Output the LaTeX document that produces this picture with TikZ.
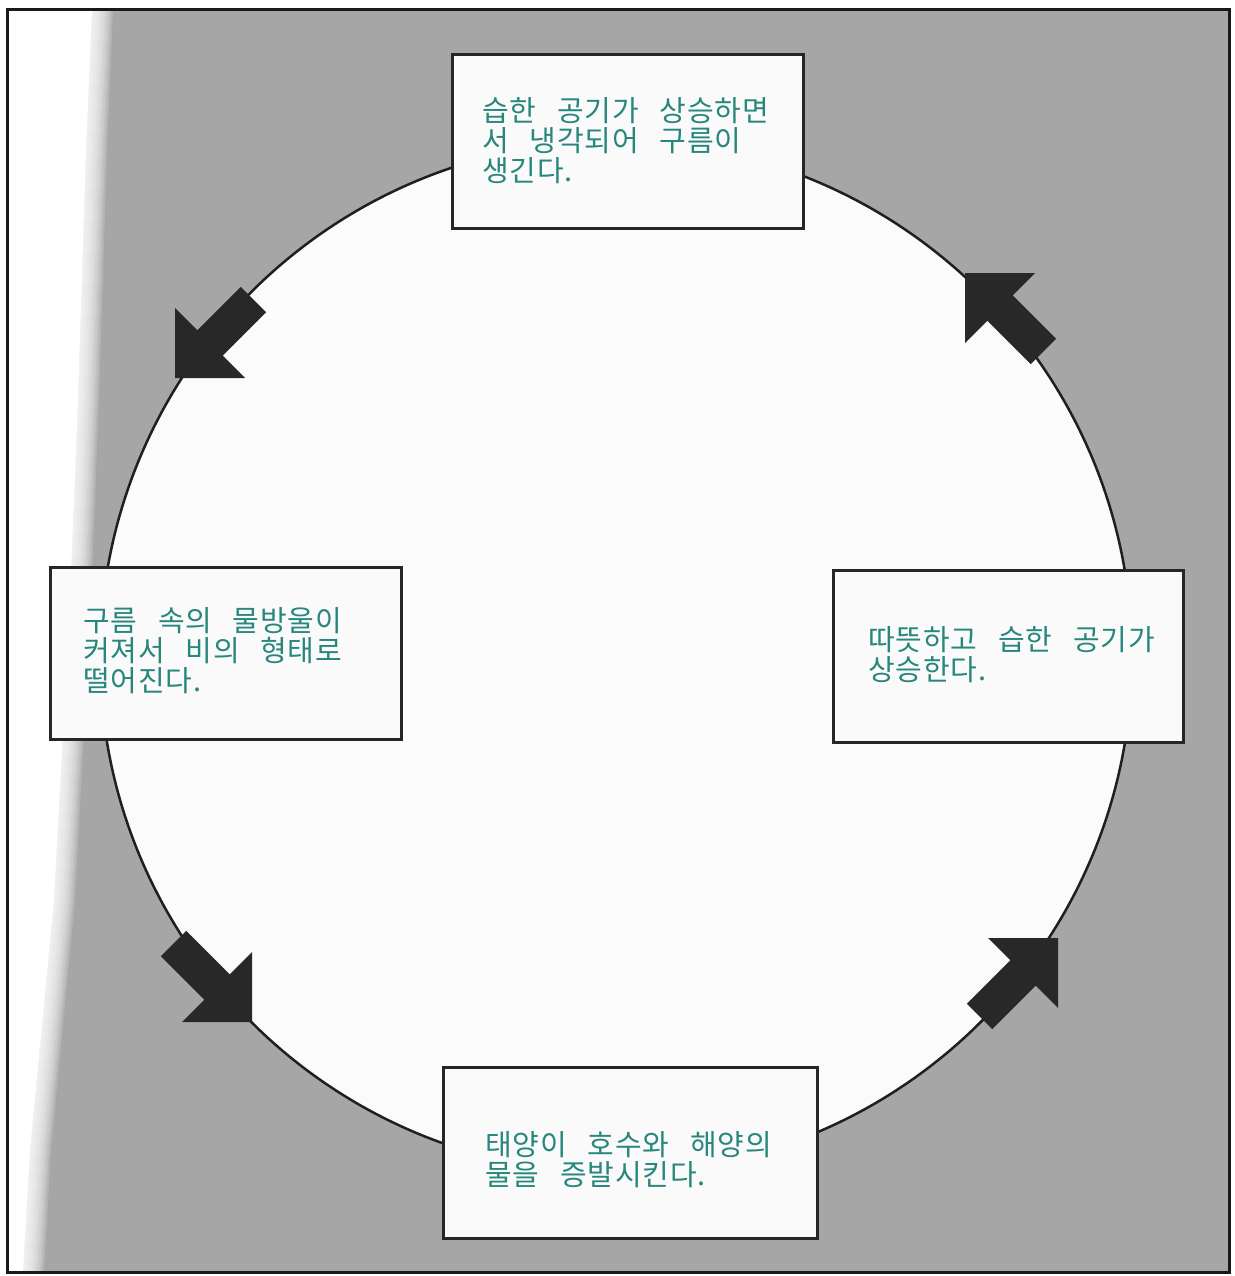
\documentclass[tikz,border=0pt]{standalone}
\usepackage{fontspec}
\newfontfamily\kr{Noto Sans CJK KR}[LetterSpace=3,WordSpace=2.8]
\definecolor{bggray}{RGB}{166,166,166}
\definecolor{ink}{RGB}{40,135,125}
\definecolor{arrowc}{RGB}{40,40,40}
\definecolor{boxfill}{RGB}{250,250,250}
\definecolor{circfill}{RGB}{251,251,251}
\tikzset{
  box/.style={draw=black!85, line width=3pt, fill=boxfill, inner sep=0pt, rectangle},
  txt/.style={font=\kr\fontsize{29}{30}\selectfont, text=ink, align=left, anchor=north west, inner sep=0pt},
  blockarr/.pic={\fill[arrowc] (0,0) -- (-49.5,49.5) -- (-49.5,18) -- (-111,18) -- (-111,-18) -- (-49.5,-18) -- (-49.5,-49.5) -- cycle;}
}
\begin{document}
\begin{tikzpicture}[x=1pt,y=-1pt]
\useasboundingbox (0,0) rectangle (1234,1276);
\fill[white] (0,0) rectangle (1234,1276);
\fill[bggray] (7,10) rectangle (1229,1272);
% soft white strip at the left
\fill[white] (7,10) -- (92,10) -- (86,150) -- (78,400) -- (70,600) -- (54,900) -- (30,1150) -- (23,1272) -- (7,1272) -- cycle;
\foreach \s in {-10,-8,...,10}{
  \fill[white, opacity=0.16, xshift=\s pt] (7,10) -- (103,10) -- (97,150) -- (89,400) -- (81,600) -- (65,900) -- (41,1150) -- (34,1272) -- (7,1272) -- cycle;
}
% circle
\node[circle, draw=black!88, line width=2.5pt, fill=circfill, minimum size=1032pt, inner sep=0pt] (cyc) at (616,657) {};
% arrows
\pic[rotate=225] (arrTL) at (175,378) {blockarr};
\pic[rotate=135] (arrTR) at (965,273) {blockarr};
\pic[rotate=-45] (arrBL) at (252,1022) {blockarr};
\pic[rotate=45] (arrBR) at (1058,938) {blockarr};
% boxes
\node[box, minimum width=351pt, minimum height=173pt] (btop) at (627.5,141.5) {};
\node[box, minimum width=351pt, minimum height=172pt] (bleft) at (225.5,653) {};
\node[box, minimum width=350pt, minimum height=172pt] (bright) at (1008,656) {};
\node[box, minimum width=374pt, minimum height=171pt] (bbottom) at (630,1152.5) {};
% texts
\node[txt] (ttop) at (482,97) {습한 공기가 상승하면\\서 냉각되어 구름이\\생긴다.};
\node[txt] (tleft) at (83,607) {구름 속의 물방울이\\커져서 비의 형태로\\떨어진다.};
\node[txt] (tright) at (868,626) {따뜻하고 습한 공기가\\상승한다.};
\node[txt] (tbottom) at (485,1131) {태양이 호수와 해양의\\물을 증발시킨다.};
% frame
\draw[line width=3pt, black!90] (7,10) rectangle (1229,1272);
\end{tikzpicture}
\end{document}
